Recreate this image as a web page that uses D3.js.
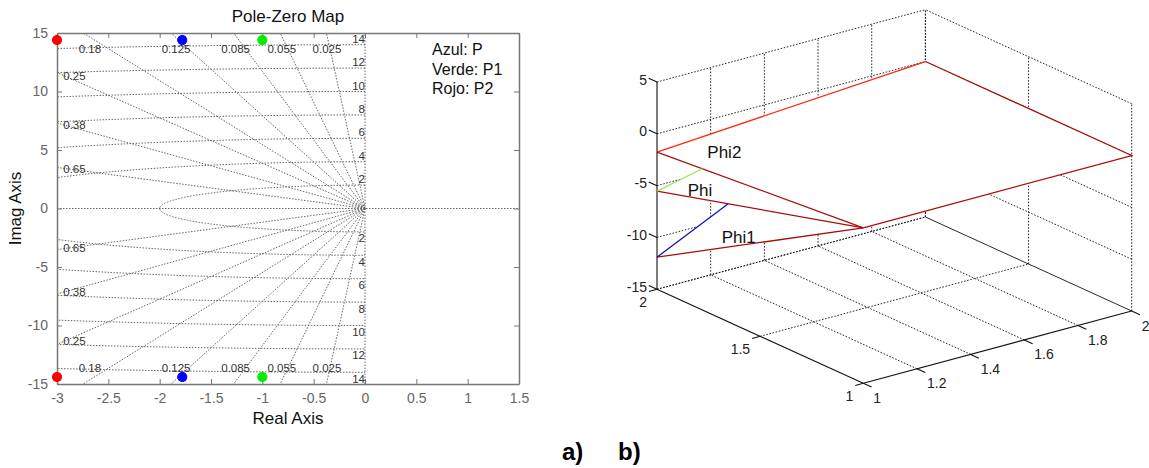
<!DOCTYPE html>
<html><head><meta charset="utf-8">
<script src="https://cdn.jsdelivr.net/npm/d3@7"></script>
<style>
body{margin:0;background:#fff}
text{font-family:"Liberation Sans",Arial,sans-serif}
</style>
</head><body>
<svg id="c" width="1149" height="468"></svg>
<script>
// ---------- data: pole-zero map ----------
const realTicks = [-3,-2.5,-2,-1.5,-1,-0.5,0,0.5,1,1.5];
const imagTicks = [-15,-10,-5,0,5,10,15];
const zetaValues = [0.025,0.055,0.085,0.125,0.18,0.25,0.38,0.65];
const zetaLabelRe = [-0.37,-0.81,-1.26,-1.84,-2.68,-2.83,-2.83,-2.83];
const zetaLabelIm = [13.6,13.6,13.6,13.6,13.6,11.34,7.16,3.41];
const wnValues = [2,4,6,8,10,12,14];
const poleNames = ["P","P1","P2"];
const poleRe = [-1.78,-1.0,-3.0];
const poleIm = [14.4,14.4,14.4];
const legendLines = ["Azul: P","Verde: P1","Rojo: P2"];

// ---------- data: 3D angle plot ([u = front-left axis, v = front-right axis, z]) ----------
const vTicks3 = [1,1.2,1.4,1.6,1.8,2];
const uTicks3 = [1,1.5,2];
const zTicks3 = [-15,-10,-5,0,5];
const phiNames = ["Phi2","Phi","Phi1"];
const phiStartZ = [-1.76,-5.53,-11.9];      // at u=2, v=1
const apexPoint = [1,1,0];
const topEdge = [[2,2,0],[1,2,0],[1,1,0]];
const p2Edge = [[2,1,-1.76],[2,2,0]];
const arcEndU = [1.78,1.655];               // green (Phi) and blue (Phi1) arc ends
const arcEndZ = [-1.376,-3.62];
const phiLabelU = [1.756,1.851,1.686];
const phiLabelZ = [-0.16,-4.66,-7.73];

const svg = d3.select("#c");
svg.append("rect").attr("width",1149).attr("height",468).attr("fill","#fff");

// ================= LEFT: Pole-Zero Map =================
const X = d3.scaleLinear().domain([-3,1.5]).range([57,519]);
const Y = d3.scaleLinear().domain([-15,15]).range([384,33]);
const fmt = d => String(d);

svg.append("clipPath").attr("id","clipL").append("rect")
  .attr("x",X(-3)).attr("y",Y(15)).attr("width",X(1.5)-X(-3)).attr("height",Y(-15)-Y(15));

const gGrid = svg.append("g").attr("clip-path","url(#clipL)")
  .attr("fill","none").attr("stroke","#666").attr("stroke-width",1)
  .attr("stroke-dasharray","1.5,1.5");
const line2 = d3.line().x(d=>X(d[0])).y(d=>Y(d[1]));

// natural frequency semicircles
wnValues.forEach(wn=>{
  const pts = d3.range(90,270.01,0.5).map(a=>[wn*Math.cos(a*Math.PI/180), wn*Math.sin(a*Math.PI/180)]);
  gGrid.append("path").attr("d",line2(pts));
});
// damping lines
zetaValues.forEach(z=>{
  [1,-1].forEach(s=>{
    gGrid.append("path").attr("d",line2([[0,0],[-30*z, s*30*Math.sqrt(1-z*z)]]));
  });
});
// axes through origin
gGrid.append("path").attr("d",line2([[-3,0],[1.5,0]]));
gGrid.append("path").attr("d",line2([[0,-15],[0,15]]));

// zeta labels
const gLab = svg.append("g").attr("font-size",11.5).attr("fill","#333");
zetaValues.forEach((z,i)=>{
  [1,-1].forEach(s=>{
    gLab.append("text").attr("x",X(zetaLabelRe[i])).attr("y",Y(s*zetaLabelIm[i]))
      .attr("text-anchor","middle").attr("dominant-baseline","central").text(String(z));
  });
});
// wn labels
wnValues.forEach(wn=>{
  gLab.append("text").attr("x",X(0)).attr("y",Y(wn)-2).attr("text-anchor","end").text(wn);
  gLab.append("text").attr("x",X(0)).attr("y",Y(-wn)+10.5).attr("text-anchor","end").text(wn);
});

// axes (box with inward ticks)
function styleAxis(g){
  g.selectAll("path.domain").attr("stroke","#777").attr("stroke-width",1.5);
  g.selectAll(".tick line").attr("stroke","#777");
  g.selectAll(".tick text").attr("fill","#666").attr("font-size",14)
    .attr("font-family","'Liberation Sans',Arial,sans-serif");
}
svg.append("g").attr("transform",`translate(0,${Y(-15)})`)
  .call(d3.axisBottom(X).tickValues(realTicks).tickSizeInner(-5).tickSizeOuter(0).tickPadding(9).tickFormat(fmt)).call(styleAxis);
svg.append("g").attr("transform",`translate(0,${Y(15)})`)
  .call(d3.axisTop(X).tickValues(realTicks).tickSizeInner(-5).tickSizeOuter(0).tickFormat("")).call(styleAxis);
svg.append("g").attr("transform",`translate(${X(-3)},0)`)
  .call(d3.axisLeft(Y).tickValues(imagTicks).tickSizeInner(-5).tickSizeOuter(0).tickPadding(9).tickFormat(fmt)).call(styleAxis);
svg.append("g").attr("transform",`translate(${X(1.5)},0)`)
  .call(d3.axisRight(Y).tickValues(imagTicks).tickSizeInner(-5).tickSizeOuter(0).tickFormat("")).call(styleAxis);

// poles
const poleColors = {P:"#0000ff",P1:"#00ee00",P2:"#ff0000"};
poleNames.forEach((n,i)=>{
  [1,-1].forEach(s=>{
    const cx = X(poleRe[i]), cy = Y(s*poleIm[i]);
    const g = svg.append("g").attr("stroke",poleColors[n]).attr("fill",poleColors[n]);
    g.append("circle").attr("cx",cx).attr("cy",cy).attr("r",4.6);
    g.append("path").attr("stroke-width",1.6)
      .attr("d",`M${cx-3.5},${cy-3.5}L${cx+3.5},${cy+3.5}M${cx+3.5},${cy-3.5}L${cx-3.5},${cy+3.5}`);
  });
});

// texts
svg.append("text").attr("x",(X(-3)+X(1.5))/2).attr("y",22).attr("text-anchor","middle")
  .attr("font-size",17).attr("fill","#111").text("Pole-Zero Map");
svg.append("text").attr("x",(X(-3)+X(1.5))/2).attr("y",424).attr("text-anchor","middle")
  .attr("font-size",17).attr("fill","#111").text("Real Axis");
svg.append("text").attr("transform",`translate(21,${Y(0)}) rotate(-90)`).attr("text-anchor","middle")
  .attr("font-size",17).attr("fill","#111").text("Imag Axis");
legendLines.forEach((t,i)=>{
  svg.append("text").attr("x",432).attr("y",55+i*19.5).attr("font-size",16).attr("fill","#111").text(t);
});

// ================= RIGHT: 3D plot =================
const O = [863.3,383.3], EU = [-206.3,-94], EV = [268.4,-72.3];
const su = d3.scaleLinear().domain([1,2]).range([0,1]);
const sv = d3.scaleLinear().domain([1,2]).range([0,1]);
const sz = d3.scaleLinear().domain([-15,5]).range([0,207.3]);
const P = (u,v,z) => [O[0]+su(u)*EU[0]+sv(v)*EV[0], O[1]+su(u)*EU[1]+sv(v)*EV[1]-sz(z)];
const line3 = d3.line().x(d=>P(...d)[0]).y(d=>P(...d)[1]);

const g3 = svg.append("g");
const gGrid3 = g3.append("g").attr("fill","none").attr("stroke","#111").attr("stroke-width",0.9)
  .attr("stroke-dasharray","1.6,1.6");
// left wall (u=2)
vTicks3.forEach(v=>{ if(v>1) gGrid3.append("path").attr("d",line3([[2,v,-15],[2,v,5]])); });
zTicks3.forEach(z=>{ gGrid3.append("path").attr("d",line3([[2,1,z],[2,2,z]])); });
// right wall (v=2)
uTicks3.forEach(u=>{ gGrid3.append("path").attr("d",line3([[u,2,-15],[u,2,5]])); });
zTicks3.forEach(z=>{ if(z>-15) gGrid3.append("path").attr("d",line3([[1,2,z],[2,2,z]])); });
// floor
vTicks3.forEach(v=>{ if(v>1 && v<2) gGrid3.append("path").attr("d",line3([[1,v,-15],[2,v,-15]])); });
uTicks3.forEach(u=>{ if(u>1) gGrid3.append("path").attr("d",line3([[u,1,-15],[u,2,-15]])); });

// white surfaces
const surfaces = [
  [p2Edge[0], ...topEdge],
  [[2,1,phiStartZ[1]], apexPoint, [arcEndU[0],1,arcEndZ[0]]],
  [[2,1,phiStartZ[2]], apexPoint, [arcEndU[1],1,arcEndZ[1]]]
];
surfaces.forEach(s=>{
  g3.append("path").attr("d",line3(s)+"Z").attr("fill","#fff").attr("stroke","none");
});

// solid axes
const gAx = g3.append("g").attr("fill","none").attr("stroke","#111").attr("stroke-width",1.1);
gAx.append("path").attr("d",line3([[2,1,-15],[2,1,5]]));
gAx.append("path").attr("d",line3([[2,1,-15],[1,1,-15]]));
gAx.append("path").attr("d",line3([[1,1,-15],[1,2,-15]]));
gAx.append("path").attr("d",line3([[2,2,-15],[1,2,-15]])).attr("stroke-width",0.9);
// ticks
zTicks3.forEach(z=>gAx.append("path").attr("d",line3([[2,1,z],[2.04,1,z]])));
uTicks3.forEach(u=>gAx.append("path").attr("d",line3([[u,1,-15],[u,0.97,-15]])));
vTicks3.forEach(v=>gAx.append("path").attr("d",line3([[1,v,-15],[0.96,v,-15]])));

// tick labels
const gT3 = g3.append("g").attr("font-size",14).attr("fill","#222");
zTicks3.forEach(z=>{
  const p = P(2,1,z);
  gT3.append("text").attr("x",p[0]-10).attr("y",p[1]-2.5).attr("text-anchor","end")
    .attr("dominant-baseline","central").text(fmt(z));
});
uTicks3.forEach(u=>{
  const p = P(u,1,-15);
  gT3.append("text").attr("x",p[0]-10).attr("y",p[1]+13).attr("text-anchor","end")
    .attr("dominant-baseline","central").text(fmt(u));
});
vTicks3.forEach(v=>{
  const p = P(1,v,-15);
  gT3.append("text").attr("x",p[0]+10).attr("y",p[1]+14.5).attr("text-anchor","start")
    .attr("dominant-baseline","central").text(fmt(v));
});

// data lines
const darkRed = "#a80f0f";
const gL = g3.append("g").attr("fill","none").attr("stroke-width",1.3);
gL.append("path").attr("d",line3(p2Edge)).attr("stroke","#ff2a10");
gL.append("path").attr("d",line3(topEdge)).attr("stroke",darkRed);
phiStartZ.forEach(z=>{
  gL.append("path").attr("d",line3([apexPoint,[2,1,z]])).attr("stroke",darkRed);
});
gL.append("path").attr("d",line3([[2,1,phiStartZ[1]],[arcEndU[0],1,arcEndZ[0]]])).attr("stroke","#9be85a");
gL.append("path").attr("d",line3([[2,1,phiStartZ[2]],[arcEndU[1],1,arcEndZ[1]]])).attr("stroke","#1515a8");

// phi labels
phiNames.forEach((n,i)=>{
  const p = P(phiLabelU[i],1,phiLabelZ[i]);
  g3.append("text").attr("x",p[0]).attr("y",p[1]).attr("font-size",17).attr("fill","#111").text(n);
});

// panel labels
svg.append("text").attr("x",562).attr("y",460).attr("font-size",24).attr("font-weight","bold")
  .attr("fill","#000").text("a)");
svg.append("text").attr("x",618).attr("y",460).attr("font-size",24).attr("font-weight","bold")
  .attr("fill","#000").text("b)");
</script>
</body></html>
